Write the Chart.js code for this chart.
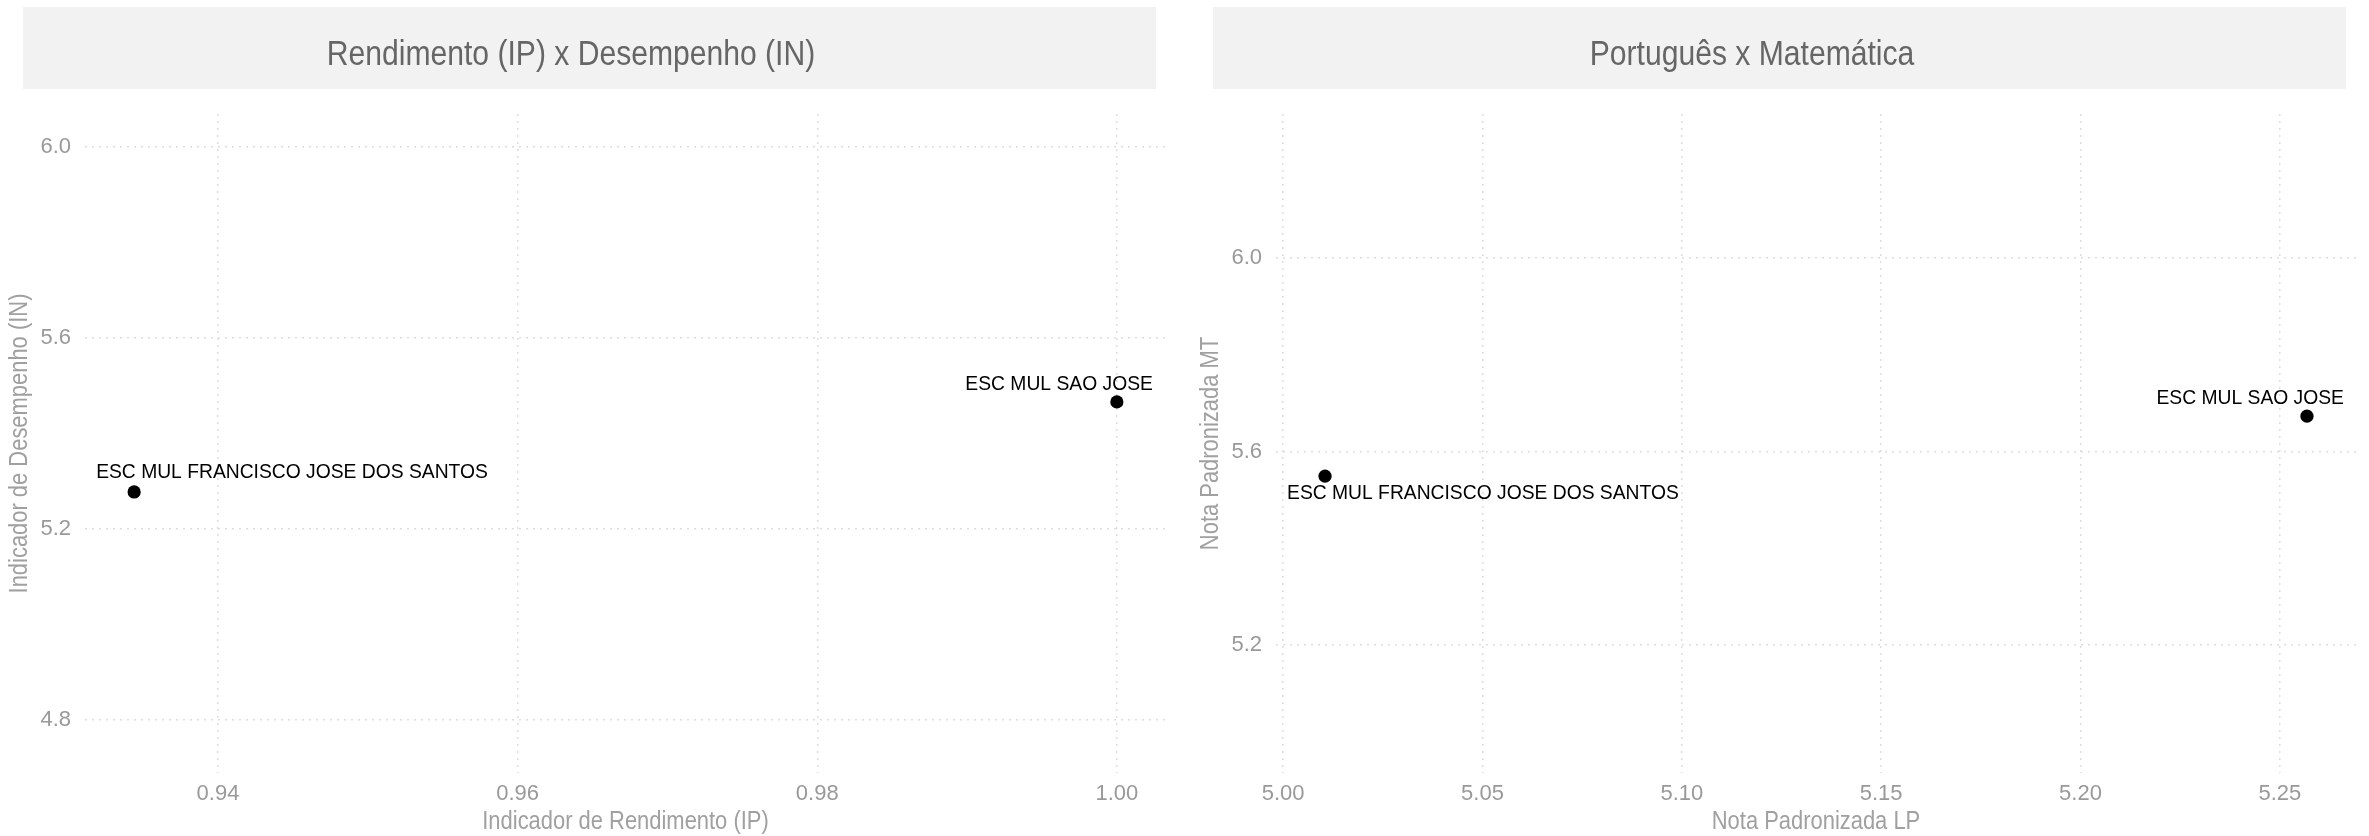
<!DOCTYPE html>
<html>
<head>
<meta charset="utf-8">
<script src="https://cdn.jsdelivr.net/npm/chart.js@4"></script>
<style>
html,body{margin:0;padding:0;background:#fff;}
#wrap{position:relative;width:2369px;height:836px;overflow:hidden;}
#c1{position:absolute;left:0;top:0;}
#c2{position:absolute;left:1184px;top:0;}
</style>
</head>
<body>
<div id="wrap">
<canvas id="c1" width="1184" height="836"></canvas>
<canvas id="c2" width="1185" height="836"></canvas>
</div>
<script>
// ---- data ----
const schools = ["ESC MUL FRANCISCO JOSE DOS SANTOS", "ESC MUL SAO JOSE"];
const ipValues = [0.9344, 1.0];      // Indicador de Rendimento (IP)
const inValues = [5.2775, 5.466];    // Indicador de Desempenho (IN)
const lpValues = [5.0105, 5.2568];   // Nota Padronizada LP
const mtValues = [5.549, 5.673];     // Nota Padronizada MT
const leftXTicks = [0.94, 0.96, 0.98, 1.00];
const leftYTicks = [4.8, 5.2, 5.6, 6.0];
const rightXTicks = [5.00, 5.05, 5.10, 5.15, 5.20, 5.25];
const rightYTicks = [5.2, 5.6, 6.0];
const titles = ["Rendimento (IP) x Desempenho (IN)", "Português x Matemática"];
const xTitles = ["Indicador de Rendimento (IP)", "Nota Padronizada LP"];
const yTitles = ["Indicador de Desempenho (IN)", "Nota Padronizada MT"];

// ---- label placement (styles, not data) ----
const leftLabelPlace = [{align:'left', dx:-38, dy:-19}, {align:'right', dx:36, dy:-17}];
const rightLabelPlace = [{align:'left', dx:-38, dy:18}, {align:'right', dx:37, dy:-18}];

const FONT = '"Liberation Sans", Arial, Helvetica, sans-serif';
const SQUEEZE = 0.86;

function condensedText(ctx, text, x, y, size, color, rotate) {
  ctx.save();
  ctx.translate(x, y);
  if (rotate) ctx.rotate(-Math.PI / 2);
  ctx.scale(SQUEEZE, 1);
  ctx.font = size + 'px ' + FONT;
  ctx.fillStyle = color;
  ctx.textAlign = 'center';
  ctx.textBaseline = 'middle';
  ctx.fillText(text, 0, 0);
  ctx.restore();
}

const decorPlugin = {
  id: 'decor',
  beforeDraw(chart, args, o) {
    const ctx = chart.ctx;
    ctx.save();
    ctx.fillStyle = '#f2f2f2';
    ctx.fillRect(o.stripLeft, 7, o.stripRight - o.stripLeft, 82);
    ctx.restore();
    condensedText(ctx, o.title, o.titleX, 55, 35, '#666666', false);
    const a = chart.chartArea;
    condensedText(ctx, o.xTitle, (a.left + a.right) / 2, a.bottom + 49, 25.5, '#a0a0a0', false);
    condensedText(ctx, o.yTitle, a.left - 65, (a.top + a.bottom) / 2, 25.5, '#a0a0a0', true);
  },
  afterDatasetsDraw(chart, args, o) {
    const ctx = chart.ctx;
    const meta = chart.getDatasetMeta(0);
    ctx.save();
    ctx.font = '19.3px ' + FONT;
    ctx.fillStyle = '#000';
    ctx.textBaseline = 'middle';
    meta.data.forEach((pt, i) => {
      const p = o.place[i];
      ctx.textAlign = p.align;
      ctx.fillText(o.labels[i], pt.x + p.dx, pt.y + p.dy);
    });
    ctx.restore();
  }
};

function makeChart(canvasId, xs, ys, xTicks, yTicks, xDec, yDec, lim, pad, decor) {
  const pts = xs.map((x, i) => ({x: x, y: ys[i]}));
  const gridCommon = {color: '#dedede', lineWidth: 1.5, drawTicks: false};
  return new Chart(document.getElementById(canvasId), {
    type: 'scatter',
    data: {datasets: [{data: pts, backgroundColor: '#000', borderColor: '#000',
      pointRadius: 6.6, pointHoverRadius: 6.6, borderWidth: 0}]},
    options: {
      responsive: false, animation: false, devicePixelRatio: 1,
      layout: {padding: {left: 0, right: pad.right, top: 114, bottom: 0}},
      plugins: {legend: {display: false}, tooltip: {enabled: false}, decor: decor},
      scales: {
        x: {
          type: 'linear', min: lim.xmin, max: lim.xmax,
          afterBuildTicks: s => { s.ticks = xTicks.map(v => ({value: v})); },
          afterFit: s => { s.height = 63; },
          ticks: {font: {family: FONT, size: 22}, color: '#999', padding: 8,
            callback: v => Number(v).toFixed(xDec), maxRotation: 0, autoSkip: false},
          grid: gridCommon,
          border: {display: false, dash: [2, 5]}
        },
        y: {
          type: 'linear', min: lim.ymin, max: lim.ymax,
          afterBuildTicks: s => { s.ticks = yTicks.map(v => ({value: v})); },
          afterFit: s => { s.width = pad.left; },
          ticks: {font: {family: FONT, size: 22}, color: '#999', padding: 14,
            callback: v => Number(v).toFixed(yDec), autoSkip: false},
          grid: gridCommon,
          border: {display: false, dash: [2, 5]}
        }
      }
    },
    plugins: [decorPlugin]
  });
}

makeChart('c1', ipValues, inValues, leftXTicks, leftYTicks, 2, 1,
  {xmin: 0.93112, xmax: 1.00328, ymin: 4.689, ymax: 6.069},
  {left: 85, right: 18},
  {stripLeft: 23, stripRight: 1156, title: titles[0], titleX: 571,
   xTitle: xTitles[0], yTitle: yTitles[0], labels: schools, place: leftLabelPlace});

makeChart('c2', lpValues, mtValues, rightXTicks, rightYTicks, 2, 1,
  {xmin: 4.9982, xmax: 5.2691, ymin: 4.9354, ymax: 6.2977},
  {left: 92, right: 13},
  {stripLeft: 29, stripRight: 1162, title: titles[1], titleX: 568,
   xTitle: xTitles[1], yTitle: yTitles[1], labels: schools, place: rightLabelPlace});
</script>
</body>
</html>
